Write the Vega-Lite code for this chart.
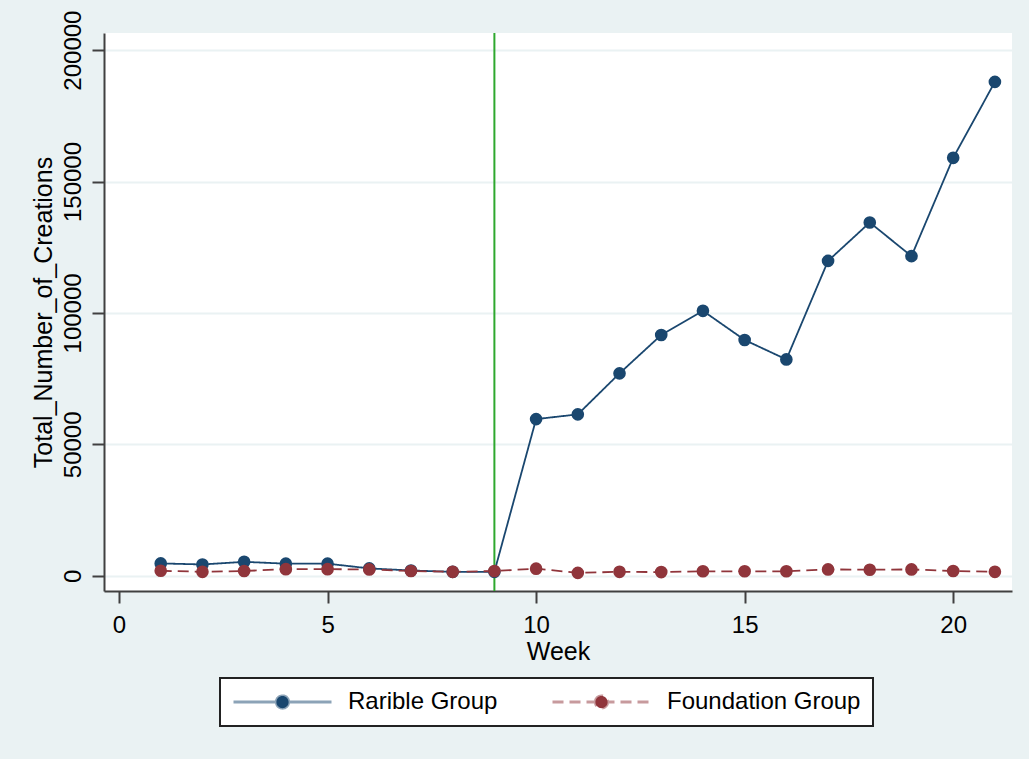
{
  "$schema": "https://vega.github.io/schema/vega-lite/v6.json",
  "width": 908,
  "height": 558,
  "autosize": "none",
  "padding": {"left": 104, "top": 33, "right": 17, "bottom": 168},
  "background": "#eaf2f3",
  "config": {
    "view": {"fill": "white", "stroke": null},
    "axis": {
      "domainColor": "#404040",
      "domainWidth": 2,
      "tickColor": "#404040",
      "tickWidth": 2,
      "tickSize": 12,
      "labelFont": "Liberation Sans",
      "labelFontSize": 24,
      "labelColor": "black",
      "titleFont": "Liberation Sans",
      "titleFontSize": 25,
      "titleFontWeight": "normal",
      "titleColor": "black"
    },
    "legend": {
      "labelFont": "Liberation Sans",
      "labelFontSize": 24,
      "labelColor": "black",
      "labelLimit": 400
    }
  },
  "datasets": {
    "weeks": [
      {"Week": 1, "Group": "Rarible Group", "Total_Number_of_Creations": 4700},
      {"Week": 2, "Group": "Rarible Group", "Total_Number_of_Creations": 4300},
      {"Week": 3, "Group": "Rarible Group", "Total_Number_of_Creations": 5300},
      {"Week": 4, "Group": "Rarible Group", "Total_Number_of_Creations": 4600},
      {"Week": 5, "Group": "Rarible Group", "Total_Number_of_Creations": 4600},
      {"Week": 6, "Group": "Rarible Group", "Total_Number_of_Creations": 2800},
      {"Week": 7, "Group": "Rarible Group", "Total_Number_of_Creations": 2000},
      {"Week": 8, "Group": "Rarible Group", "Total_Number_of_Creations": 1500},
      {"Week": 9, "Group": "Rarible Group", "Total_Number_of_Creations": 1500},
      {"Week": 10, "Group": "Rarible Group", "Total_Number_of_Creations": 59600},
      {"Week": 11, "Group": "Rarible Group", "Total_Number_of_Creations": 61400},
      {"Week": 12, "Group": "Rarible Group", "Total_Number_of_Creations": 77000},
      {"Week": 13, "Group": "Rarible Group", "Total_Number_of_Creations": 91600},
      {"Week": 14, "Group": "Rarible Group", "Total_Number_of_Creations": 100800},
      {"Week": 15, "Group": "Rarible Group", "Total_Number_of_Creations": 89700},
      {"Week": 16, "Group": "Rarible Group", "Total_Number_of_Creations": 82300},
      {"Week": 17, "Group": "Rarible Group", "Total_Number_of_Creations": 119800},
      {"Week": 18, "Group": "Rarible Group", "Total_Number_of_Creations": 134400},
      {"Week": 19, "Group": "Rarible Group", "Total_Number_of_Creations": 121600},
      {"Week": 20, "Group": "Rarible Group", "Total_Number_of_Creations": 159000},
      {"Week": 21, "Group": "Rarible Group", "Total_Number_of_Creations": 187900},
      {"Week": 1, "Group": "Foundation Group", "Total_Number_of_Creations": 1900},
      {"Week": 2, "Group": "Foundation Group", "Total_Number_of_Creations": 1500},
      {"Week": 3, "Group": "Foundation Group", "Total_Number_of_Creations": 1800},
      {"Week": 4, "Group": "Foundation Group", "Total_Number_of_Creations": 2500},
      {"Week": 5, "Group": "Foundation Group", "Total_Number_of_Creations": 2500},
      {"Week": 6, "Group": "Foundation Group", "Total_Number_of_Creations": 2400},
      {"Week": 7, "Group": "Foundation Group", "Total_Number_of_Creations": 1800},
      {"Week": 8, "Group": "Foundation Group", "Total_Number_of_Creations": 1500},
      {"Week": 9, "Group": "Foundation Group", "Total_Number_of_Creations": 1800},
      {"Week": 10, "Group": "Foundation Group", "Total_Number_of_Creations": 2700},
      {"Week": 11, "Group": "Foundation Group", "Total_Number_of_Creations": 1100},
      {"Week": 12, "Group": "Foundation Group", "Total_Number_of_Creations": 1500},
      {"Week": 13, "Group": "Foundation Group", "Total_Number_of_Creations": 1400},
      {"Week": 14, "Group": "Foundation Group", "Total_Number_of_Creations": 1700},
      {"Week": 15, "Group": "Foundation Group", "Total_Number_of_Creations": 1700},
      {"Week": 16, "Group": "Foundation Group", "Total_Number_of_Creations": 1700},
      {"Week": 17, "Group": "Foundation Group", "Total_Number_of_Creations": 2400},
      {"Week": 18, "Group": "Foundation Group", "Total_Number_of_Creations": 2300},
      {"Week": 19, "Group": "Foundation Group", "Total_Number_of_Creations": 2400},
      {"Week": 20, "Group": "Foundation Group", "Total_Number_of_Creations": 1800},
      {"Week": 21, "Group": "Foundation Group", "Total_Number_of_Creations": 1500}
    ],
    "event": [{"Week": 9}]
  },
  "layer": [
    {
      "data": {"name": "event"},
      "mark": {"type": "rule", "color": "#2ea82e", "strokeWidth": 2},
      "encoding": {
        "x": {"field": "Week", "type": "quantitative"}
      }
    },
    {
      "data": {"name": "weeks"},
      "mark": {"type": "line", "strokeWidth": 1.8},
      "encoding": {
        "x": {
          "field": "Week", "type": "quantitative",
          "scale": {"domain": [-0.36, 21.41], "nice": false, "zero": false},
          "axis": {"values": [0, 5, 10, 15, 20], "grid": false, "labelPadding": 10, "titlePadding": 2, "title": "Week"}
        },
        "y": {
          "field": "Total_Number_of_Creations", "type": "quantitative",
          "scale": {"domain": [-5800, 206500], "nice": false, "zero": false},
          "axis": {
            "values": [0, 50000, 100000, 150000, 200000],
            "format": "d",
            "labelAngle": -90,
            "labelAlign": "center",
            "labelBaseline": "alphabetic",
            "labelPadding": 12,
            "titlePadding": 5,
            "grid": true,
            "gridColor": "#eaf2f3",
            "gridWidth": 2,
            "title": "Total_Number_of_Creations"
          }
        },
        "color": {
          "field": "Group", "type": "nominal",
          "scale": {"domain": ["Rarible Group", "Foundation Group"], "range": ["#1a476f", "#90353b"]},
          "legend": {
            "title": null,
            "orient": "none",
            "legendX": 116,
            "legendY": 645,
            "direction": "horizontal",
            "columns": 2,
            "fillColor": "white",
            "strokeColor": "#222222",
            "padding": 12,
            "columnPadding": 53,
            "clipHeight": 24,
            "labelLimit": 400,
            "symbolType": "M-1,0L1,0M-0.125,0A0.125,0.125,0,1,1,0.125,0A0.125,0.125,0,1,1,-0.125,0Z",
            "symbolSize": 9604,
            "symbolStrokeWidth": 3,
            "labelOffset": 15,
            "encode": {
              "legend": {"update": {"strokeWidth": {"value": 2}}},
              "symbols": {
                "update": {
                  "strokeOpacity": {"value": 0.5},
                  "fillOpacity": {"value": 1},
                  "strokeWidth": {"value": 3}
                }
              }
            }
          }
        },
        "strokeDash": {
          "field": "Group", "type": "nominal",
          "scale": {"domain": ["Rarible Group", "Foundation Group"], "range": [[1, 0], [11, 6]]},
          "legend": null
        },
        "order": {"field": "Week", "type": "quantitative"}
      }
    },
    {
      "data": {"name": "weeks"},
      "mark": {"type": "point", "filled": true, "opacity": 1, "size": 160, "shape": "circle"},
      "encoding": {
        "x": {"field": "Week", "type": "quantitative"},
        "y": {"field": "Total_Number_of_Creations", "type": "quantitative"},
        "color": {"field": "Group", "type": "nominal"}
      }
    }
  ]
}
